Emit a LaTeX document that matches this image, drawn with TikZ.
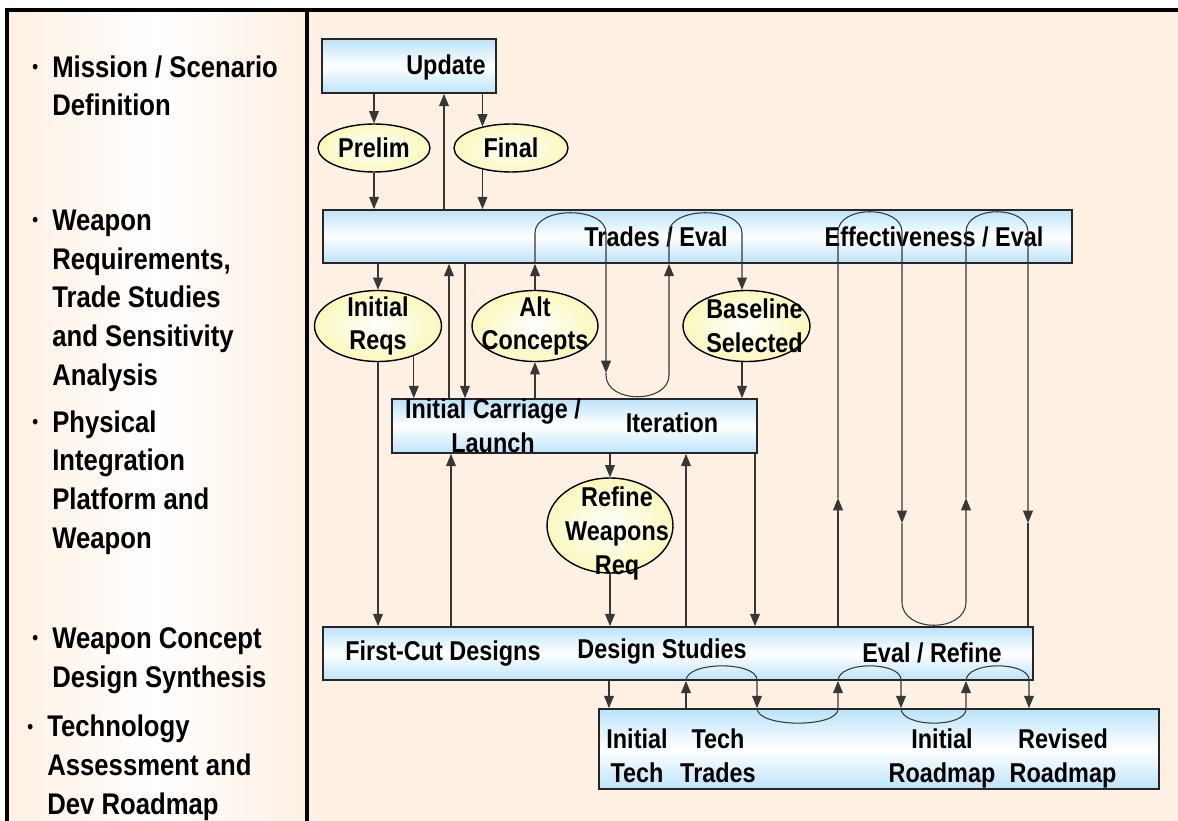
\documentclass[tikz,border=0pt]{standalone}
\usepackage{fontspec}
\setmainfont{Liberation Sans}[FakeStretch=0.86]
\usetikzlibrary{arrows.meta,shapes.geometric}
\definecolor{bgpeach}{RGB}{254,240,227}
\definecolor{boxblue}{RGB}{188,227,250}
\definecolor{ovalyellow}{RGB}{250,248,188}
\definecolor{wire}{RGB}{55,55,55}
\newcommand{\sidebul}{\llap{\raisebox{2pt}{\fontsize{11}{11}\selectfont\textbullet}\hspace{8pt}}}

\begin{document}
\begin{tikzpicture}[x=0.02cm, y=-0.02cm,
    font=\bfseries\fontsize{15.5}{19.3}\selectfont,
    blk/.style={rectangle, draw=black!85, line width=1pt, top color=boxblue,
                bottom color=boxblue, middle color=white, inner sep=0pt},
    oval/.style={ellipse, draw=black, line width=0.8pt, inner color=white,
                 outer color=ovalyellow, inner sep=0pt},
    txt/.style={align=center, inner sep=0pt, anchor=base},
    sidetxt/.style={align=left, inner sep=0pt, anchor=base west,
                    font=\bfseries\fontsize{17}{22}\selectfont},
    arr/.style={-{Triangle[length=7pt,width=5.6pt]}, wire, line width=0.6pt},
    wireln/.style={wire, line width=0.6pt}]
    \useasboundingbox (0,0) rectangle (1178,821);
    \fill[white] (0,0) rectangle (1178,821);
    \shade[left color=bgpeach, right color=bgpeach, middle color=white] (7,10) rectangle (307,821);
    \fill[bgpeach] (307,10) rectangle (1178,821);
    \draw[line width=1.8pt] (7,821) -- (7,10) -- (1178,10);
    \draw[line width=1.8pt] (307,10) -- (307,821);

    % multi-line nodes sit on their last baseline
    \node[sidetxt] (mission) at (52,116) {\sidebul Mission / Scenario\\Definition};
    \node[sidetxt] (wreq) at (52,385) {\sidebul Weapon\\Requirements,\\Trade Studies\\and Sensitivity\\Analysis};
    \node[sidetxt] (phys) at (52,548) {\sidebul Physical\\Integration\\Platform and\\Weapon};
    \node[sidetxt] (synth) at (52,687) {\sidebul Weapon Concept\\Design Synthesis};
    \node[sidetxt] (roadm) at (47,814) {\sidebul Technology\\Assessment and\\Dev Roadmap};

    \node[blk, minimum width=3.48cm, minimum height=1.08cm] (upd) at (409,66) {};
    \node[txt] (updT) at (446,75) {Update};
    \node[oval, minimum width=2.24cm, minimum height=0.96cm] (prelim) at (374,148) {Prelim};
    \node[oval, minimum width=2.28cm, minimum height=0.96cm] (final) at (511,148) {Final};

    \node[blk, minimum width=14.98cm, minimum height=1.06cm] (trade) at (697.5,236.5) {};
    \node[txt] (tradeT) at (656,247) {Trades / Eval};
    \node[txt] (effT) at (934,247) {Effectiveness / Eval};

    \node[oval, minimum width=2.54cm, minimum height=1.42cm] (ireq) at (378,326) {};
    \node[txt, anchor=center] (ireqT) at (ireq) {Initial\\Reqs};
    \node[oval, minimum width=2.52cm, minimum height=1.42cm] (alt) at (535,326) {};
    \node[txt, anchor=center] (altT) at (alt) {Alt\\Concepts};
    \node[oval, minimum width=2.54cm, minimum height=1.42cm] (basel) at (746.5,326) {};
    \node[txt, anchor=center] (baselT) at ([xshift=0.16cm]basel.center) {Baseline\\Selected};

    \node[blk, minimum width=7.3cm, minimum height=1.08cm] (iter) at (574.5,426) {};
    \node[txt] (carrT) at (493,452) {Initial Carriage /\\Launch};
    \node[txt] (iterT) at (672,432) {Iteration};

    \node[oval, minimum width=2.52cm, minimum height=1.9cm] (refine) at (610,525.5) {};
    \node[txt, anchor=center] (refineT) at ([xshift=0.14cm, yshift=-0.16cm]refine.center) {Refine\\Weapons\\Req};

    \node[blk, minimum width=14.2cm, minimum height=1.06cm] (design) at (678,653.5) {};
    \node[txt] (cutT) at (443,660) {First-Cut Designs};
    \node[txt] (studT) at (662,658) {Design Studies};
    \node[txt] (evalT) at (932,662) {Eval / Refine};

    \node[blk, minimum width=11.2cm, minimum height=1.6cm] (tech) at (879,749) {};
    \node[txt] (itechT) at (637,782) {Initial\\Tech};
    \node[txt] (ttradeT) at (718,782) {Tech\\Trades};
    \node[txt] (iroadT) at (942,782) {Initial\\Roadmap};
    \node[txt] (rroadT) at (1063,782) {Revised\\Roadmap};

    \draw[arr] (prelim.north |- upd.south) -- (prelim.north);
    \draw[arr] (prelim.south) -- (prelim.south |- trade.north);
    \draw[arr] (trade.north -| 444,0) -- (upd.south -| 444,0);
    \draw[arr] (final.143 |- upd.south) -- (final.143);
    \draw[arr] (final.217) -- (final.217 |- trade.north);

    \draw[arr] (trade.south -| ireq.north) -- (ireq.north);
    \draw[arr] (ireq.south) -- (ireq.south |- design.north);
    \draw[arr] (ireq.320) -- (ireq.320 |- iter.north);
    \draw[arr] (iter.north -| 449,0) -- (trade.south -| 449,0);
    \draw[arr] (trade.south -| 465,0) -- (iter.north -| 465,0);
    \draw[arr] (iter.north -| alt.south) -- (alt.south);
    \draw[arr] (basel.south -| 742,0) -- (iter.north -| 742,0);

    \draw[arr] (alt.north) -- (alt.north |- trade.south);
    \draw[arr] (alt.north |- trade.south) -- (535,233) .. controls (535,206) and (606,206) .. (606,233) -- (606,373);
    \draw[arr] (606,373) -- (606,375) .. controls (606,404) and (669,404) .. (669,375) -- (trade.south -| 669,0);
    \draw[arr] (trade.south -| 669,0) -- (669,233) .. controls (669,206) and (742,206) .. (742,233) -- (basel.north -| 742,0);

    \draw[arr] (design.north -| 451,0) -- (iter.south -| 451,0);
    \draw[arr] (iter.south -| refine.north) -- (refine.north);
    \draw[arr] (refine.south) -- (refine.south |- design.north);
    \draw[arr] (design.north -| 686,0) -- (iter.south -| 686,0);
    \draw[arr] (iter.south -| 755,0) -- (design.north -| 755,0);

    \draw[arr] (design.north -| 838,0) -- (838,498);
    \draw[arr] (838,498) -- (838,232) .. controls (838,205) and (902,205) .. (902,232) -- (902,523);
    \draw[arr] (902,523) -- (902,602) .. controls (902,633) and (966,633) .. (966,602) -- (966,498);
    \draw[arr] (966,498) -- (966,232) .. controls (966,205) and (1028,205) .. (1028,232) -- (1028,523);
    \draw[wireln] (1028,523) -- (design.north -| 1028,0);

    \draw[arr] (design.south -| 609,0) -- (tech.north -| 609,0);
    \draw[arr] (tech.north -| 686,0) -- (design.south -| 686,0);
    \draw[arr] (design.south -| 686,0) .. controls (686,661) and (757,661) .. (757,680) -- (tech.north -| 757,0);
    \draw[arr] (tech.north -| 757,0) .. controls (757,728) and (838,728) .. (838,709) -- (design.south -| 838,0);
    \draw[arr] (design.south -| 838,0) .. controls (838,661) and (901,661) .. (901,680) -- (tech.north -| 901,0);
    \draw[arr] (tech.north -| 901,0) .. controls (901,728) and (966,728) .. (966,709) -- (design.south -| 966,0);
    \draw[arr] (design.south -| 966,0) .. controls (966,661) and (1029,661) .. (1029,680) -- (tech.north -| 1029,0);
  \end{tikzpicture}
\end{document}
